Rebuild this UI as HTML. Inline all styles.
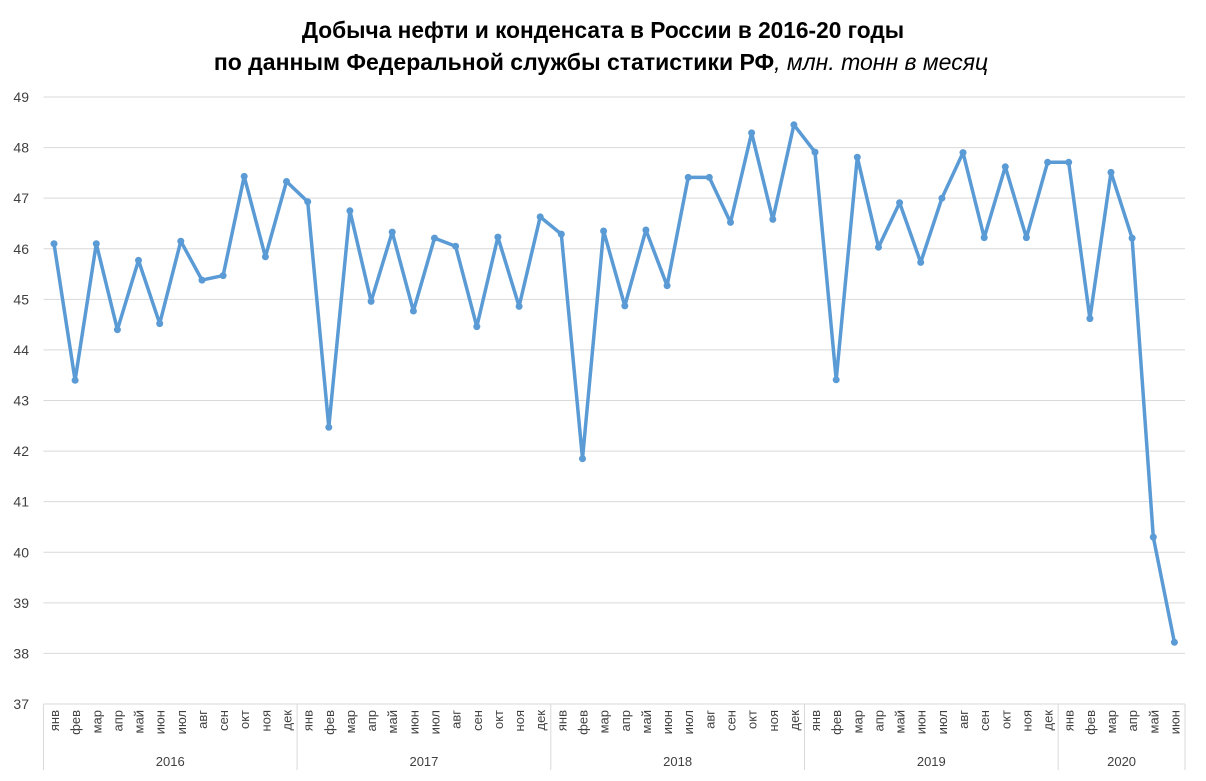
<!DOCTYPE html>
<html><head><meta charset="utf-8"><style>
body{margin:0;background:#fff;}
svg{display:block;font-family:"Liberation Sans","DejaVu Sans",sans-serif;}
</style></head><body>
<svg id="s" width="1206" height="781" xmlns="http://www.w3.org/2000/svg">
<text x="603" y="38" text-anchor="middle" font-size="22.7" font-weight="bold" fill="#000">Добыча нефти и конденсата в России в 2016-20 годы</text>
<text x="601" y="70" text-anchor="middle" font-size="23" fill="#000"><tspan font-weight="bold">по данным Федеральной службы статистики РФ</tspan><tspan font-style="italic">, млн. тонн в месяц</tspan></text>
<g id="g"></g>
</svg>
<script>
var g=document.getElementById('g'),h='';
var x0=43.4,x1=1185,y0=97,y1=704,n=54,w=(x1-x0)/n;
function Y(v){return y0+(49-v)*(y1-y0)/12;}
for(var v=37;v<=49;v++){var y=Y(v);
 if(v>37)h+='<line x1="'+x0+'" x2="'+x1+'" y1="'+y+'" y2="'+y+'" stroke="#d9d9d9" stroke-width="1"/>';
 h+='<text x="29" y="'+(y+5)+'" text-anchor="end" font-size="14" fill="#404040">'+v+'</text>';}
h+='<line x1="'+x0+'" x2="'+x1+'" y1="704" y2="704" stroke="#d9d9d9"/>';
var d=[46.1,43.4,46.1,44.4,45.77,44.52,46.15,45.38,45.47,47.43,45.84,47.33,
46.93,42.47,46.75,44.96,46.33,44.77,46.21,46.05,44.46,46.23,44.86,46.63,
46.29,41.85,46.35,44.87,46.37,45.27,47.41,47.41,46.52,48.29,46.58,48.45,
47.91,43.41,47.81,46.03,46.91,45.73,47.0,47.9,46.22,47.62,46.22,47.71,
47.71,44.62,47.51,46.21,40.3,38.22];
var m=['янв','фев','мар','апр','май','июн','июл','авг','сен','окт','ноя','дек'];
var pts=[];
for(var i=0;i<n;i++){var x=x0+w*(i+0.5);pts.push(x.toFixed(1)+','+Y(d[i]).toFixed(1));
 h+='<text transform="translate('+(x+5)+',710) rotate(-90)" text-anchor="end" font-size="13" fill="#404040">'+m[i%12]+'</text>';}
var yrs=['2016','2017','2018','2019','2020'];
for(var k=0;k<=5;k++){var xs=k<5?x0+w*12*k:x1;
 h+='<line x1="'+xs+'" x2="'+xs+'" y1="704" y2="770" stroke="#d9d9d9"/>';
 if(k<5){var c=k<4?x0+w*12*(k+0.5):x0+w*51;h+='<text x="'+c+'" y="766" text-anchor="middle" font-size="13" fill="#404040">'+yrs[k]+'</text>';}}
h+='<polyline points="'+pts.join(' ')+'" fill="none" stroke="#5b9bd5" stroke-width="3.5" stroke-linejoin="round"/>';
for(i=0;i<n;i++){var p=pts[i].split(',');h+='<circle cx="'+p[0]+'" cy="'+p[1]+'" r="3.5" fill="#5b9bd5"/>';}
g.innerHTML=h;
</script>
</body></html>
